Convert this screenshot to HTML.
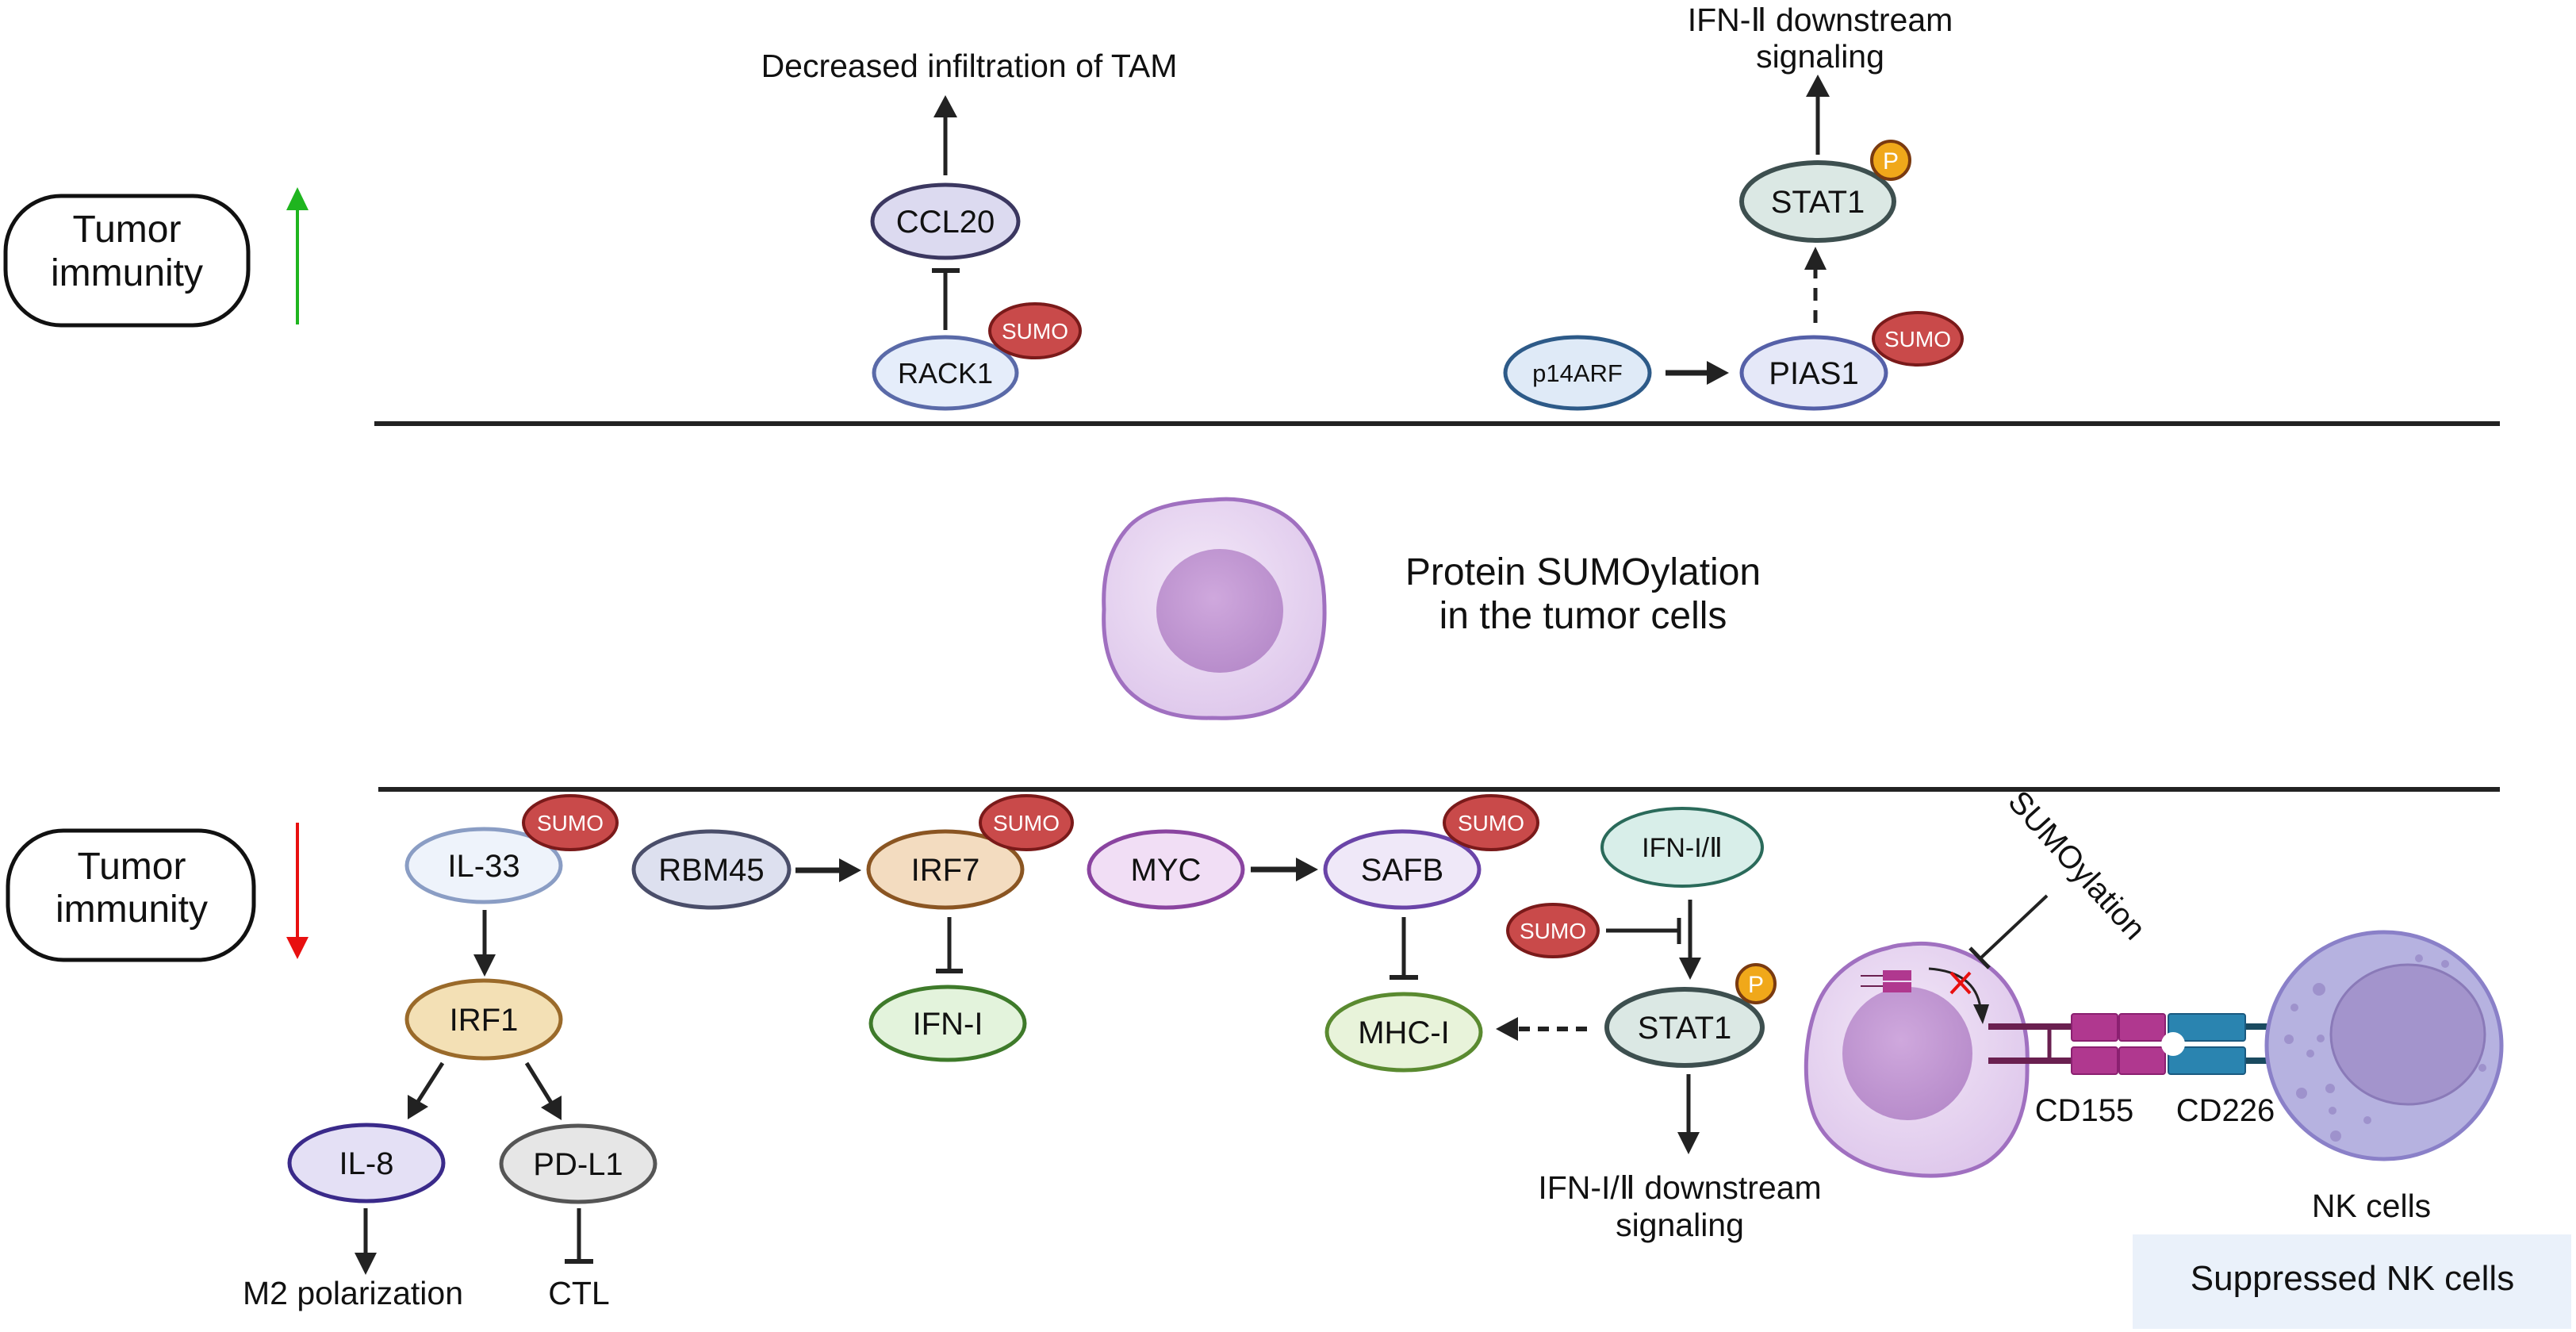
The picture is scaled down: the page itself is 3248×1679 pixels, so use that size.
<!DOCTYPE html>
<html><head><meta charset="utf-8"><style>
html,body{margin:0;padding:0;background:#fff}
svg{display:block}
text{font-family:"Liberation Sans",Arial,sans-serif;fill:#111}
</style></head><body>
<svg width="3248" height="1679" viewBox="0 0 3248 1679" xmlns="http://www.w3.org/2000/svg">
<defs>
<radialGradient id="cellg" cx="0.45" cy="0.4" r="0.7">
<stop offset="0" stop-color="#f3e8f8"/><stop offset="1" stop-color="#dcc4ea"/></radialGradient>
<radialGradient id="nucg" cx="0.45" cy="0.4" r="0.7">
<stop offset="0" stop-color="#cfa8dd"/><stop offset="1" stop-color="#b488c8"/></radialGradient>
</defs>

<!-- Top section -->
<rect x="7" y="247" width="306" height="163" rx="70" ry="70" fill="#fff" stroke="#111" stroke-width="5"/>
<text x="160" y="305" font-size="48" text-anchor="middle">Tumor</text>
<text x="160" y="360" font-size="48" text-anchor="middle">immunity</text>
<line x1="375" y1="409" x2="375" y2="260" stroke="#1fb51f" stroke-width="4"/>
<polygon points="375,236 361,265 389,265" fill="#1fb51f"/>

<text x="1222" y="97" font-size="41" text-anchor="middle">Decreased infiltration of TAM</text>
<line x1="1192" y1="221" x2="1192" y2="145" stroke="#222" stroke-width="5"/>
<polygon points="1192,120 1177,148 1207,148" fill="#222"/>
<ellipse cx="1192" cy="279" rx="92" ry="46" fill="#dcdaf0" stroke="#3b3760" stroke-width="5"/>
<text x="1192" y="293" font-size="40" text-anchor="middle">CCL20</text>
<line x1="1192" y1="416" x2="1192" y2="341" stroke="#222" stroke-width="5"/>
<line x1="1175" y1="341" x2="1210" y2="341" stroke="#222" stroke-width="6"/>
<ellipse cx="1192" cy="470" rx="90" ry="45" fill="#e5edfa" stroke="#5a6aa8" stroke-width="5"/>
<text x="1192" y="483" font-size="36" text-anchor="middle">RACK1</text>
<ellipse cx="1305" cy="417" rx="57" ry="34" fill="#c94a4a" stroke="#7a1a1a" stroke-width="4"/>
<text x="1305" y="427" font-size="28" text-anchor="middle" style="fill:#fff">SUMO</text>

<text x="2295" y="39" font-size="41" text-anchor="middle">IFN-Ⅱ downstream</text>
<text x="2295" y="85" font-size="41" text-anchor="middle">signaling</text>
<line x1="2292" y1="195" x2="2292" y2="118" stroke="#222" stroke-width="5"/>
<polygon points="2292,94 2277,122 2307,122" fill="#222"/>
<ellipse cx="2292" cy="254" rx="96" ry="49" fill="#dbe8e4" stroke="#3d4f4f" stroke-width="6"/>
<text x="2292" y="268" font-size="40" text-anchor="middle">STAT1</text>
<ellipse cx="2384" cy="202" rx="24" ry="24" fill="#f0a81a" stroke="#7a3a10" stroke-width="4"/>
<text x="2384" y="213" font-size="30" text-anchor="middle" style="fill:#fff">P</text>
<line x1="2289" y1="407" x2="2289" y2="338" stroke="#222" stroke-width="5" stroke-dasharray="16,12"/>
<polygon points="2289,311 2275,340 2303,340" fill="#222"/>
<ellipse cx="2287" cy="470" rx="91" ry="45" fill="#e5e8f8" stroke="#5560a8" stroke-width="5"/>
<text x="2287" y="484" font-size="40" text-anchor="middle">PIAS1</text>
<ellipse cx="2418" cy="427" rx="56" ry="33" fill="#c94a4a" stroke="#7a1a1a" stroke-width="4"/>
<text x="2418" y="437" font-size="28" text-anchor="middle" style="fill:#fff">SUMO</text>
<ellipse cx="1989" cy="470" rx="91" ry="45" fill="#dfeaf7" stroke="#2d5a88" stroke-width="5"/>
<text x="1989" y="481" font-size="31" text-anchor="middle">p14ARF</text>
<line x1="2100" y1="470" x2="2155" y2="470" stroke="#222" stroke-width="7"/>
<polygon points="2180,470 2152,455 2152,485" fill="#222"/>

<line x1="472" y1="534" x2="3152" y2="534" stroke="#222" stroke-width="6"/>

<!-- Middle -->
<g>
<path d="M1530,630 C1565,626 1610,636 1635,662 C1662,690 1670,730 1670,768 C1671,810 1660,850 1632,878 C1602,905 1560,906 1528,905 C1490,906 1450,898 1422,870 C1396,842 1390,805 1392,768 C1390,728 1398,690 1425,662 C1452,636 1495,632 1530,630 Z" fill="url(#cellg)" stroke="#a070c0" stroke-width="5"/>
<ellipse cx="1538" cy="770" rx="80" ry="78" fill="url(#nucg)"/>
</g>
<text x="1996" y="737" font-size="48" text-anchor="middle">Protein SUMOylation</text>
<text x="1996" y="792" font-size="48" text-anchor="middle">in the tumor cells</text>

<line x1="477" y1="995" x2="3152" y2="995" stroke="#222" stroke-width="6"/>

<!-- Bottom section -->
<rect x="10" y="1047" width="310" height="163" rx="70" ry="70" fill="#fff" stroke="#111" stroke-width="5"/>
<text x="166" y="1108" font-size="48" text-anchor="middle">Tumor</text>
<text x="166" y="1162" font-size="48" text-anchor="middle">immunity</text>
<line x1="375" y1="1037" x2="375" y2="1185" stroke="#e81010" stroke-width="4"/>
<polygon points="375,1209 361,1181 389,1181" fill="#e81010"/>

<ellipse cx="610" cy="1091" rx="97" ry="46" fill="#eef3fb" stroke="#8a9dc4" stroke-width="5"/>
<text x="610" y="1105" font-size="40" text-anchor="middle">IL-33</text>
<ellipse cx="719" cy="1037" rx="59" ry="34" fill="#c94a4a" stroke="#7a1a1a" stroke-width="4"/>
<text x="719" y="1047" font-size="28" text-anchor="middle" style="fill:#fff">SUMO</text>
<line x1="611" y1="1147" x2="611" y2="1206" stroke="#222" stroke-width="5"/>
<polygon points="611,1231 597,1203 625,1203" fill="#222"/>
<ellipse cx="610" cy="1285" rx="97" ry="49" fill="#f3e0b5" stroke="#9a6a2a" stroke-width="5"/>
<text x="610" y="1299" font-size="40" text-anchor="middle">IRF1</text>
<line x1="558" y1="1340" x2="526" y2="1390" stroke="#222" stroke-width="5"/>
<polygon points="514,1411 514,1380 540,1395" fill="#222"/>
<line x1="664" y1="1340" x2="695" y2="1390" stroke="#222" stroke-width="5"/>
<polygon points="708,1412 682,1396 708,1381" fill="#222"/>
<ellipse cx="462" cy="1466" rx="97" ry="48" fill="#e4e0f5" stroke="#3a2a8a" stroke-width="5"/>
<text x="462" y="1480" font-size="40" text-anchor="middle">IL-8</text>
<ellipse cx="729" cy="1467" rx="97" ry="48" fill="#e6e6e6" stroke="#555" stroke-width="5"/>
<text x="729" y="1481" font-size="40" text-anchor="middle">PD-L1</text>
<line x1="461" y1="1523" x2="461" y2="1582" stroke="#222" stroke-width="5"/>
<polygon points="461,1607 447,1579 475,1579" fill="#222"/>
<text x="445" y="1644" font-size="41" text-anchor="middle">M2 polarization</text>
<line x1="730" y1="1523" x2="730" y2="1590" stroke="#222" stroke-width="5"/>
<line x1="712" y1="1590" x2="748" y2="1590" stroke="#222" stroke-width="6"/>
<text x="730" y="1644" font-size="41" text-anchor="middle">CTL</text>

<ellipse cx="897" cy="1096" rx="98" ry="48" fill="#dde0ef" stroke="#4a4e6a" stroke-width="5"/>
<text x="897" y="1110" font-size="40" text-anchor="middle">RBM45</text>
<line x1="1003" y1="1097" x2="1060" y2="1097" stroke="#222" stroke-width="7"/>
<polygon points="1086,1097 1058,1082 1058,1112" fill="#222"/>
<ellipse cx="1192" cy="1096" rx="97" ry="48" fill="#f3dcc0" stroke="#8a5522" stroke-width="5"/>
<text x="1192" y="1110" font-size="40" text-anchor="middle">IRF7</text>
<ellipse cx="1294" cy="1037" rx="58" ry="34" fill="#c94a4a" stroke="#7a1a1a" stroke-width="4"/>
<text x="1294" y="1047" font-size="28" text-anchor="middle" style="fill:#fff">SUMO</text>
<line x1="1197" y1="1156" x2="1197" y2="1224" stroke="#222" stroke-width="5"/>
<line x1="1180" y1="1224" x2="1214" y2="1224" stroke="#222" stroke-width="6"/>
<ellipse cx="1195" cy="1290" rx="97" ry="46" fill="#e3f3dc" stroke="#3e7a2a" stroke-width="5"/>
<text x="1195" y="1304" font-size="40" text-anchor="middle">IFN-I</text>

<ellipse cx="1470" cy="1096" rx="97" ry="48" fill="#f1def5" stroke="#8a44a0" stroke-width="5"/>
<text x="1470" y="1110" font-size="40" text-anchor="middle">MYC</text>
<line x1="1577" y1="1096" x2="1636" y2="1096" stroke="#222" stroke-width="7"/>
<polygon points="1662,1096 1634,1081 1634,1111" fill="#222"/>
<ellipse cx="1768" cy="1096" rx="97" ry="48" fill="#efe8f8" stroke="#6a44a8" stroke-width="5"/>
<text x="1768" y="1110" font-size="40" text-anchor="middle">SAFB</text>
<ellipse cx="1880" cy="1037" rx="59" ry="34" fill="#c94a4a" stroke="#7a1a1a" stroke-width="4"/>
<text x="1880" y="1047" font-size="28" text-anchor="middle" style="fill:#fff">SUMO</text>
<line x1="1770" y1="1156" x2="1770" y2="1232" stroke="#222" stroke-width="5"/>
<line x1="1752" y1="1232" x2="1788" y2="1232" stroke="#222" stroke-width="6"/>
<ellipse cx="1770" cy="1301" rx="97" ry="48" fill="#e8f3da" stroke="#5a8a30" stroke-width="5"/>
<text x="1770" y="1315" font-size="40" text-anchor="middle">MHC-I</text>

<line x1="2001" y1="1297" x2="1910" y2="1297" stroke="#222" stroke-width="6" stroke-dasharray="14,10"/>
<polygon points="1886,1297 1914,1282 1914,1312" fill="#222"/>

<ellipse cx="2121" cy="1068" rx="101" ry="49" fill="#d8eee9" stroke="#2a6a5a" stroke-width="4"/>
<text x="2121" y="1080" font-size="34" text-anchor="middle">IFN-I/Ⅱ</text>
<line x1="2131" y1="1134" x2="2131" y2="1210" stroke="#222" stroke-width="5"/>
<polygon points="2131,1235 2117,1207 2145,1207" fill="#222"/>
<ellipse cx="1958" cy="1173" rx="57" ry="33" fill="#c94a4a" stroke="#7a1a1a" stroke-width="4"/>
<text x="1958" y="1183" font-size="28" text-anchor="middle" style="fill:#fff">SUMO</text>
<line x1="2025" y1="1173" x2="2117" y2="1173" stroke="#222" stroke-width="5"/>
<line x1="2117" y1="1157" x2="2117" y2="1190" stroke="#222" stroke-width="5"/>
<ellipse cx="2124" cy="1295" rx="98" ry="48" fill="#dbe8e4" stroke="#3d4f4f" stroke-width="6"/>
<text x="2124" y="1309" font-size="40" text-anchor="middle">STAT1</text>
<ellipse cx="2214" cy="1240" rx="24" ry="24" fill="#f0a81a" stroke="#7a3a10" stroke-width="4"/>
<text x="2214" y="1251" font-size="30" text-anchor="middle" style="fill:#fff">P</text>
<line x1="2129" y1="1354" x2="2129" y2="1430" stroke="#222" stroke-width="5"/>
<polygon points="2129,1455 2115,1427 2143,1427" fill="#222"/>
<text x="2118" y="1511" font-size="41" text-anchor="middle">IFN-I/Ⅱ downstream</text>
<text x="2118" y="1558" font-size="41" text-anchor="middle">signaling</text>

<!-- Tumor cell & NK -->
<path d="M2410,1190 C2450,1186 2495,1203 2522,1232 C2550,1262 2558,1305 2556,1345 C2557,1395 2542,1440 2505,1465 C2470,1486 2425,1484 2392,1478 C2350,1472 2305,1448 2288,1408 C2272,1368 2275,1310 2290,1270 C2305,1230 2340,1204 2380,1195 C2392,1191 2400,1191 2410,1190 Z" fill="url(#cellg)" stroke="#a070c0" stroke-width="5"/>
<ellipse cx="2405" cy="1328" rx="82" ry="84" fill="url(#nucg)"/>
<g stroke="#6a2050" stroke-width="2">
<line x1="2346" y1="1230" x2="2376" y2="1230"/><line x1="2346" y1="1243" x2="2376" y2="1243"/>
</g>
<rect x="2374" y="1223" width="18" height="13" fill="#b0388f"/><rect x="2392" y="1223" width="18" height="13" fill="#b0388f"/>
<rect x="2374" y="1238" width="18" height="13" fill="#b0388f"/><rect x="2392" y="1238" width="18" height="13" fill="#b0388f"/>
<path d="M2432,1221 Q2490,1225 2497,1270" fill="none" stroke="#222" stroke-width="3"/>
<polygon points="2500,1291 2488,1266 2508,1266" fill="#222"/>
<line x1="2460" y1="1226" x2="2484" y2="1252" stroke="#e81010" stroke-width="4"/>
<line x1="2484" y1="1226" x2="2460" y2="1252" stroke="#e81010" stroke-width="4"/>
<line x1="2581" y1="1129" x2="2497" y2="1208" stroke="#222" stroke-width="4"/>
<line x1="2484" y1="1195" x2="2508" y2="1220" stroke="#222" stroke-width="5"/>
<text x="0" y="0" font-size="40" transform="translate(2530,1012) rotate(48)">SUMOylation</text>

<g stroke="#6a2050" stroke-width="8">
<line x1="2507" y1="1294" x2="2614" y2="1294"/><line x1="2507" y1="1337" x2="2614" y2="1337"/>
<line x1="2584" y1="1294" x2="2584" y2="1337" stroke-width="5"/>
</g>
<g stroke="#1a4a60" stroke-width="8">
<line x1="2829" y1="1294" x2="2914" y2="1294"/><line x1="2829" y1="1337" x2="2914" y2="1337"/>
</g>
<g fill="#2a84b0" stroke="#1a5a80" stroke-width="2">
<rect x="2734" y="1278" width="97" height="34" rx="3"/>
<rect x="2734" y="1320" width="97" height="34" rx="3"/>
</g>
<g fill="#b0388f" stroke="#8a2070" stroke-width="2">
<rect x="2612" y="1278" width="58" height="34" rx="3"/><rect x="2672" y="1278" width="58" height="34" rx="3"/>
<rect x="2612" y="1320" width="58" height="34" rx="3"/><rect x="2672" y="1320" width="58" height="34" rx="3"/>
</g>
<circle cx="2740" cy="1316" r="15" fill="#fff"/>
<text x="2628" y="1413" font-size="40" text-anchor="middle">CD155</text>
<text x="2806" y="1413" font-size="40" text-anchor="middle">CD226</text>

<ellipse cx="3006" cy="1318" rx="148" ry="143" fill="#b6b2e0" stroke="#8a80c8" stroke-width="5"/>
<ellipse cx="3036" cy="1304" rx="97" ry="88" fill="#a394cc" stroke="#8a7ab8" stroke-width="3"/>
<g fill="#9e92cc">
<circle cx="2924" cy="1247" r="8"/><circle cx="2893" cy="1270" r="5"/><circle cx="2886" cy="1310" r="6"/><circle cx="2926" cy="1309" r="5"/>
<circle cx="2902" cy="1378" r="7"/><circle cx="2938" cy="1372" r="6"/><circle cx="2945" cy="1432" r="7"/><circle cx="2985" cy="1412" r="5"/>
<circle cx="2941" cy="1400" r="5"/><circle cx="3050" cy="1208" r="5"/><circle cx="3083" cy="1215" r="5"/><circle cx="3130" cy="1346" r="5"/><circle cx="2913" cy="1328" r="5"/>
</g>
<text x="2990" y="1534" font-size="41" text-anchor="middle">NK cells</text>
<rect x="2689" y="1556" width="553" height="119" fill="#eaf1fa"/>
<text x="2966" y="1626" font-size="44" text-anchor="middle">Suppressed NK cells</text>
</svg>
</body></html>
